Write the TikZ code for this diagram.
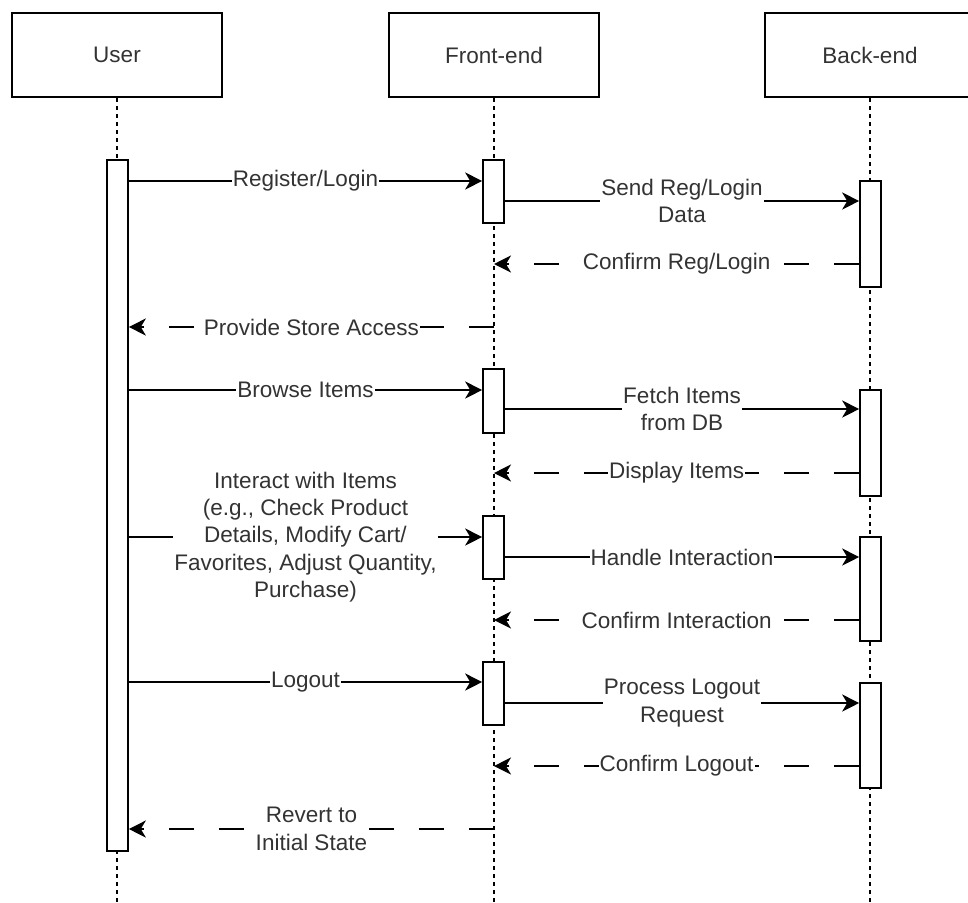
\documentclass[tikz,border=0pt]{standalone}
\usepackage{fontspec}
\setmainfont{Liberation Sans}
\usetikzlibrary{arrows.meta}
\definecolor{txt}{HTML}{333333}
\tikzset{
  head/.style={draw, fill=white, line width=1.6pt, minimum width=210pt, minimum height=84pt,
    inner sep=0pt, text=txt, font=\fontsize{22.5}{27}\selectfont},
  act/.style={draw, fill=white, line width=1.6pt, minimum width=21pt, anchor=north, inner sep=0pt},
  lifeline/.style={line width=1.5pt, dash pattern=on 4pt off 4pt},
  msg/.style={line width=1.8pt, -{Stealth[length=17pt,width=17pt,inset=5pt]}},
  ret/.style={msg, dash pattern=on 25pt off 25pt},
  lbl/.style={fill=white, inner sep=1pt, align=center, text=txt,
    font=\fontsize{22.5}{27.3}\selectfont},
}
\begin{document}
\begin{tikzpicture}[x=1pt,y=-1pt]
\useasboundingbox (0,0) rectangle (968,902);
\clip (0,0) rectangle (968,902);

% participants
\node[head] (us) at (117,55) {User};
\node[head] (fe) at (494,55) {Front-end};
\node[head] (be) at (870,55) {Back-end};

% lifelines
\draw[lifeline] (us.south) -- (us.south |- 0,902);
\draw[lifeline] (fe.south) -- (fe.south |- 0,902);
\draw[lifeline] (be.south) -- (be.south |- 0,902);

% activation bars
\node[act, minimum height=691pt] (ua) at (117.5,159) {};
\node[act, minimum height=63pt] (fa1) at (493.5,159) {};
\node[act, minimum height=64pt] (fa2) at (493.5,368) {};
\node[act, minimum height=63pt] (fa3) at (493.5,515) {};
\node[act, minimum height=63pt] (fa4) at (493.5,661) {};
\node[act, minimum height=106pt] (ba1) at (870.5,180) {};
\node[act, minimum height=106pt] (ba2) at (870.5,389) {};
\node[act, minimum height=104pt] (ba3) at (870.5,536) {};
\node[act, minimum height=105pt] (ba4) at (870.5,682) {};

% messages
\draw[msg] (ua.east |- 0,181) -- node[lbl]{Register/Login} (fa1.west |- 0,181);
\draw[msg] (fa1.east |- 0,201) -- node[lbl]{Send Reg/Login\\Data} (ba1.west |- 0,201);
\draw[ret] (ba1.west |- 0,264) -- node[lbl]{Confirm Reg/Login} (fe.south |- 0,264);
\draw[ret] (fe.south |- 0,327) -- node[lbl]{Provide Store Access} (ua.east |- 0,327);
\draw[msg] (ua.east |- 0,390) -- node[lbl]{Browse Items} (fa2.west |- 0,390);
\draw[msg] (fa2.east |- 0,409) -- node[lbl]{Fetch Items\\from DB} (ba2.west |- 0,409);
\draw[ret] (ba2.west |- 0,473) -- node[lbl]{Display Items} (fe.south |- 0,473);
\draw[msg] (ua.east |- 0,537) -- node[lbl]{Interact with Items\\(e.g., Check Product\\Details, Modify Cart/\\Favorites, Adjust Quantity,\\Purchase)} (fa3.west |- 0,537);
\draw[msg] (fa3.east |- 0,557) -- node[lbl]{Handle Interaction} (ba3.west |- 0,557);
\draw[ret] (ba3.west |- 0,620) -- node[lbl]{Confirm Interaction} (fe.south |- 0,620);
\draw[msg] (ua.east |- 0,682) -- node[lbl]{Logout} (fa4.west |- 0,682);
\draw[msg] (fa4.east |- 0,703) -- node[lbl]{Process Logout\\Request} (ba4.west |- 0,703);
\draw[ret] (ba4.west |- 0,766) -- node[lbl]{Confirm Logout} (fe.south |- 0,766);
\draw[ret] (fe.south |- 0,829) -- node[lbl]{Revert to\\Initial State} (ua.east |- 0,829);
\end{tikzpicture}
\end{document}
